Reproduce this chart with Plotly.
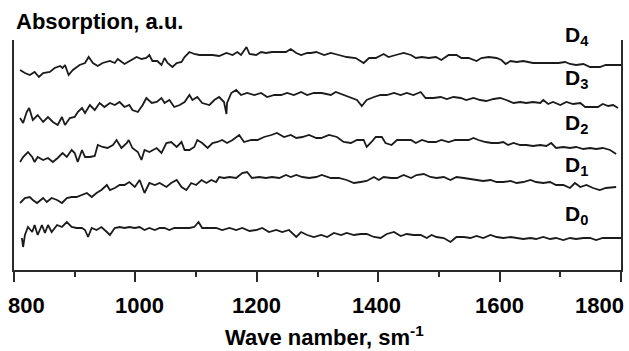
import plotly.graph_objects as go

# ---- data (wave number, sm^-1 ; absorption, a.u.) ----
d4_x = [810, 818, 826, 834, 841, 848, 859, 867, 876, 880, 884, 890, 897, 908, 917, 923, 930, 938, 946, 958,
        966, 971, 982, 990, 1002, 1010, 1018, 1023, 1028, 1036, 1043, 1048, 1053, 1061, 1068, 1076, 1081, 1089,
        1097, 1105, 1117, 1127, 1138, 1150, 1160, 1168, 1174, 1183, 1188, 1199, 1207, 1215, 1225, 1237, 1248,
        1256, 1265, 1273, 1283, 1289, 1298, 1311, 1322, 1335, 1348, 1363, 1376, 1385, 1396, 1409, 1417, 1429,
        1442, 1454, 1462, 1472, 1483, 1495, 1504, 1516, 1529, 1537, 1549, 1562, 1570, 1582, 1595, 1603, 1610,
        1618, 1628, 1639, 1655, 1672, 1683, 1697, 1708, 1716, 1726, 1738, 1749, 1765, 1775, 1800]
d4_y = [2.00, 1.97, 1.95, 1.98, 1.93, 1.97, 1.98, 2.02, 2.04, 2.02, 2.05, 1.95, 2.00, 2.05, 2.07, 2.13, 2.07, 2.04,
        2.07, 2.09, 2.07, 2.11, 2.06, 2.09, 2.13, 2.11, 2.12, 2.15, 2.09, 2.09, 2.05, 2.12, 2.07, 2.03, 2.07, 2.08,
        2.13, 2.18, 2.16, 2.15, 2.15, 2.15, 2.14, 2.17, 2.15, 2.18, 2.15, 2.23, 2.16, 2.15, 2.18, 2.17, 2.18, 2.18,
        2.18, 2.21, 2.17, 2.15, 2.17, 2.17, 2.18, 2.15, 2.17, 2.15, 2.13, 2.12, 2.07, 2.12, 2.12, 2.16, 2.13, 2.15,
        2.17, 2.15, 2.12, 2.13, 2.12, 2.13, 2.10, 2.15, 2.15, 2.12, 2.12, 2.09, 2.12, 2.13, 2.12, 2.10, 2.06, 2.09,
        2.08, 2.09, 2.07, 2.07, 2.07, 2.07, 2.08, 2.06, 2.05, 2.06, 2.03, 2.03, 2.05, 2.05]

d3_x = [810, 815, 821, 825, 831, 839, 848, 856, 864, 872, 879, 884, 892, 900, 905, 912, 917, 925, 933, 941, 949,
        958, 966, 974, 982, 990, 995, 1004, 1012, 1018, 1027, 1035, 1043, 1048, 1056, 1064, 1073, 1081, 1089, 1094,
        1102, 1110, 1122, 1130, 1138, 1146, 1150, 1151, 1158, 1166, 1174, 1184, 1196, 1207, 1217, 1229, 1240, 1250,
        1261, 1273, 1283, 1294, 1307, 1322, 1330, 1343, 1357, 1365, 1373, 1381, 1393, 1404, 1414, 1426, 1437, 1447,
        1458, 1470, 1478, 1491, 1503, 1513, 1524, 1536, 1545, 1557, 1568, 1578, 1590, 1601, 1611, 1623, 1634, 1644,
        1655, 1667, 1672, 1680, 1688, 1700, 1710, 1721, 1733, 1741, 1754, 1762, 1770, 1779, 1787, 1795]
d3_y = [1.52, 1.47, 1.58, 1.62, 1.50, 1.55, 1.48, 1.53, 1.48, 1.45, 1.53, 1.45, 1.52, 1.53, 1.58, 1.62, 1.57, 1.65,
        1.60, 1.67, 1.63, 1.67, 1.65, 1.68, 1.63, 1.65, 1.60, 1.58, 1.65, 1.72, 1.67, 1.68, 1.72, 1.67, 1.70, 1.63,
        1.65, 1.68, 1.75, 1.70, 1.73, 1.67, 1.65, 1.70, 1.73, 1.68, 1.56, 1.67, 1.77, 1.80, 1.75, 1.77, 1.75, 1.77,
        1.73, 1.75, 1.75, 1.77, 1.75, 1.78, 1.75, 1.77, 1.77, 1.75, 1.78, 1.75, 1.72, 1.70, 1.64, 1.70, 1.73, 1.75,
        1.75, 1.77, 1.75, 1.77, 1.75, 1.78, 1.72, 1.72, 1.73, 1.71, 1.73, 1.72, 1.70, 1.72, 1.70, 1.69, 1.71, 1.72,
        1.70, 1.67, 1.68, 1.67, 1.68, 1.67, 1.70, 1.66, 1.68, 1.65, 1.68, 1.66, 1.67, 1.63, 1.63, 1.63, 1.66, 1.64,
        1.65, 1.62]

d2_x = [810, 815, 823, 830, 834, 839, 848, 856, 864, 872, 880, 887, 895, 900, 905, 912, 917, 925, 933, 938, 946,
        954, 963, 969, 977, 986, 989, 995, 1004, 1010, 1015, 1023, 1035, 1043, 1051, 1059, 1068, 1076, 1081, 1089,
        1097, 1102, 1110, 1119, 1127, 1135, 1143, 1151, 1160, 1171, 1179, 1191, 1201, 1212, 1224, 1233, 1245, 1256,
        1265, 1275, 1286, 1298, 1306, 1319, 1332, 1343, 1355, 1365, 1376, 1381, 1389, 1396, 1406, 1412, 1422, 1431,
        1442, 1454, 1462, 1472, 1483, 1495, 1504, 1516, 1527, 1537, 1549, 1557, 1565, 1577, 1587, 1598, 1606, 1614,
        1623, 1634, 1644, 1655, 1667, 1677, 1685, 1693, 1705, 1716, 1726, 1738, 1749, 1759, 1770, 1782, 1792]
d2_y = [1.08, 1.13, 1.18, 1.13, 1.08, 1.13, 1.10, 1.12, 1.08, 1.12, 1.17, 1.13, 1.20, 1.17, 1.08, 1.20, 1.13, 1.13,
        1.14, 1.25, 1.23, 1.22, 1.25, 1.30, 1.22, 1.27, 1.30, 1.22, 1.18, 1.10, 1.20, 1.18, 1.22, 1.17, 1.27, 1.28,
        1.23, 1.28, 1.20, 1.20, 1.23, 1.30, 1.27, 1.22, 1.27, 1.28, 1.30, 1.27, 1.30, 1.35, 1.28, 1.30, 1.30, 1.33,
        1.35, 1.37, 1.33, 1.35, 1.32, 1.33, 1.35, 1.32, 1.32, 1.35, 1.33, 1.28, 1.27, 1.30, 1.30, 1.23, 1.28, 1.33,
        1.33, 1.27, 1.25, 1.30, 1.30, 1.30, 1.27, 1.30, 1.28, 1.28, 1.30, 1.28, 1.30, 1.30, 1.30, 1.32, 1.30, 1.28,
        1.27, 1.27, 1.28, 1.25, 1.27, 1.25, 1.25, 1.24, 1.25, 1.24, 1.27, 1.22, 1.23, 1.22, 1.23, 1.21, 1.22, 1.21,
        1.22, 1.20, 1.16]

d1_x = [810, 818, 826, 831, 838, 843, 848, 854, 862, 871, 879, 887, 895, 903, 912, 920, 928, 936, 944, 953, 958,
        966, 974, 982, 990, 999, 1007, 1015, 1023, 1032, 1040, 1051, 1059, 1068, 1076, 1084, 1092, 1100, 1109, 1117,
        1125, 1133, 1138, 1146, 1155, 1166, 1176, 1184, 1192, 1204, 1215, 1225, 1237, 1248, 1256, 1265, 1275, 1286,
        1298, 1307, 1322, 1335, 1348, 1360, 1371, 1381, 1393, 1401, 1409, 1421, 1431, 1442, 1454, 1463, 1475, 1486,
        1496, 1508, 1519, 1529, 1541, 1552, 1562, 1573, 1585, 1595, 1606, 1618, 1628, 1639, 1651, 1660, 1672, 1683,
        1693, 1705, 1716, 1724, 1733, 1743, 1754, 1765, 1775, 1792]
d1_y = [0.67, 0.72, 0.73, 0.70, 0.67, 0.70, 0.72, 0.68, 0.72, 0.70, 0.67, 0.72, 0.73, 0.73, 0.75, 0.77, 0.73, 0.77,
        0.80, 0.85, 0.80, 0.82, 0.85, 0.85, 0.88, 0.83, 0.90, 0.77, 0.87, 0.85, 0.87, 0.83, 0.87, 0.90, 0.83, 0.80,
        0.87, 0.85, 0.90, 0.87, 0.90, 0.88, 0.93, 0.92, 0.93, 0.92, 0.97, 0.98, 0.92, 0.93, 0.92, 0.93, 0.92, 0.95,
        0.93, 0.95, 0.93, 0.92, 0.93, 0.95, 0.92, 0.92, 0.90, 0.87, 0.88, 0.89, 0.93, 0.90, 0.93, 0.92, 0.92, 0.95,
        0.92, 0.95, 0.96, 0.93, 0.92, 0.93, 0.90, 0.93, 0.92, 0.91, 0.90, 0.89, 0.90, 0.88, 0.88, 0.89, 0.87, 0.88,
        0.90, 0.88, 0.87, 0.88, 0.85, 0.85, 0.82, 0.87, 0.83, 0.85, 0.82, 0.80, 0.82, 0.83]

d0_x = [813, 815, 818, 823, 830, 834, 839, 846, 851, 856, 862, 871, 879, 887, 895, 903, 912, 917, 922, 928, 936,
        944, 953, 958, 966, 974, 982, 990, 999, 1007, 1015, 1023, 1032, 1040, 1048, 1056, 1064, 1073, 1081, 1089,
        1097, 1104, 1110, 1122, 1133, 1143, 1155, 1166, 1176, 1188, 1199, 1209, 1220, 1232, 1242, 1253, 1265, 1273,
        1283, 1294, 1306, 1316, 1327, 1339, 1348, 1360, 1371, 1381, 1393, 1404, 1414, 1426, 1437, 1447, 1458, 1470,
        1480, 1488, 1496, 1508, 1519, 1529, 1541, 1552, 1562, 1573, 1585, 1595, 1606, 1618, 1628, 1639, 1651, 1660,
        1672, 1683, 1693, 1705, 1716, 1726, 1738, 1749, 1759, 1770, 1782, 1800]
d0_y = [0.32, 0.23, 0.35, 0.43, 0.38, 0.45, 0.35, 0.45, 0.37, 0.45, 0.38, 0.45, 0.43, 0.48, 0.43, 0.42, 0.42, 0.40,
        0.33, 0.42, 0.40, 0.43, 0.38, 0.35, 0.42, 0.43, 0.42, 0.43, 0.42, 0.43, 0.40, 0.42, 0.40, 0.42, 0.42, 0.40,
        0.42, 0.42, 0.42, 0.42, 0.43, 0.48, 0.42, 0.42, 0.42, 0.40, 0.42, 0.40, 0.42, 0.39, 0.40, 0.42, 0.38, 0.40,
        0.38, 0.40, 0.33, 0.38, 0.35, 0.33, 0.35, 0.33, 0.37, 0.35, 0.37, 0.35, 0.36, 0.36, 0.33, 0.32, 0.36, 0.38,
        0.34, 0.36, 0.35, 0.35, 0.32, 0.35, 0.33, 0.32, 0.28, 0.33, 0.33, 0.32, 0.34, 0.32, 0.35, 0.33, 0.32, 0.33,
        0.32, 0.31, 0.32, 0.31, 0.33, 0.31, 0.32, 0.30, 0.32, 0.31, 0.32, 0.32, 0.30, 0.32, 0.32, 0.32]

series_names = ["D<sub>4</sub>", "D<sub>3</sub>", "D<sub>2</sub>", "D<sub>1</sub>", "D<sub>0</sub>"]
label_x = [1705, 1705, 1705, 1705, 1705]
label_y = [2.19, 1.76, 1.31, 0.89, 0.40]

tick_vals = [800, 1000, 1200, 1400, 1600, 1800]
tick_text = ["800", "1000", "1200", "1400", "1600", "1800"]
tick_shift = [12, 4, 0, -2, 0, -22]

FONT = "Liberation Sans, Arial, Helvetica, sans-serif"
INK = "#1b1b1b"

fig = go.Figure()
for xs, ys in [(d4_x, d4_y), (d3_x, d3_y), (d2_x, d2_y), (d1_x, d1_y), (d0_x, d0_y)]:
    fig.add_trace(go.Scatter(x=xs, y=ys, mode="lines",
                             line=dict(color=INK, width=1.8), showlegend=False,
                             hoverinfo="skip"))

ann = []
for name, lx, ly in zip(series_names, label_x, label_y):
    ann.append(dict(x=lx, y=ly, xref="x", yref="y", text="<b>" + name + "</b>",
                    showarrow=False, xanchor="left", yanchor="bottom",
                    font=dict(family=FONT, size=21, color="black")))
for tv, tt, sh in zip(tick_vals, tick_text, tick_shift):
    ann.append(dict(x=tv, y=0, xref="x", yref="paper", text="<b>" + tt + "</b>",
                    showarrow=False, xanchor="center", yanchor="top", xshift=sh, yshift=-21,
                    font=dict(family=FONT, size=22, color="black")))
ann.append(dict(x=0, y=1, xref="paper", yref="paper", text="<b>Absorption, a.u.</b>",
                showarrow=False, xanchor="left", yanchor="bottom", yshift=4,
                font=dict(family=FONT, size=22, color="black")))
ann.append(dict(x=0.511, y=0, xref="paper", yref="paper",
                text="<b>Wave namber, sm<sup>-1</sup></b>",
                showarrow=False, xanchor="center", yanchor="top", yshift=-50,
                font=dict(family=FONT, size=22, color="black")))

fig.update_layout(
    width=629, height=351,
    margin=dict(l=14, r=6, t=40, b=81, pad=0),
    paper_bgcolor="white", plot_bgcolor="white",
    annotations=ann,
    xaxis=dict(range=[800, 1800], showgrid=False, zeroline=False,
               showline=True, linecolor="#2a2a2a", linewidth=2,
               ticks="outside", ticklen=10, tickwidth=2, tickcolor="#2a2a2a",
               tick0=800, dtick=200, showticklabels=False,
               minor=dict(ticks="outside", ticklen=5, tickwidth=2, tickcolor="#2a2a2a",
                          dtick=100, tick0=800, showgrid=False)),
    yaxis=dict(range=[0, 2.3], showgrid=False, zeroline=False,
               showline=True, mirror=True, linecolor="#2a2a2a", linewidth=2,
               ticks="", showticklabels=False),
)

fig.write_html("out.html")
